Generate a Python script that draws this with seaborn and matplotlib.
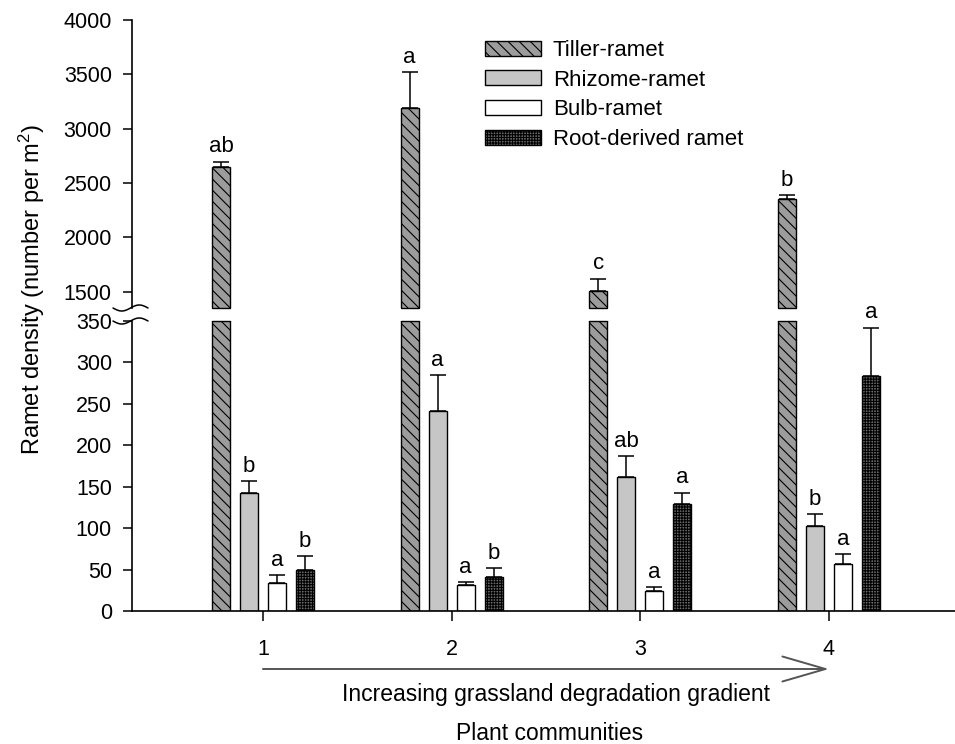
import numpy as np
import pandas as pd
import matplotlib
matplotlib.use("Agg")
import matplotlib.pyplot as plt
import matplotlib.transforms as mtransforms
from matplotlib.patches import Patch
import seaborn as sns

# ---------------- data ----------------
communities = ["1", "2", "3", "4"]
ramet_types = ["Tiller-ramet", "Rhizome-ramet", "Bulb-ramet", "Root-derived ramet"]

tiller = [2645, 3190, 1505, 2355]
tiller_se = [53, 332, 115, 37]
rhizome = [142, 241, 162, 103]
rhizome_se = [15, 44, 25, 14]
bulb = [34, 31, 24, 57]
bulb_se = [9, 4, 5, 12]
root = [49, 41, 129, 284]
root_se = [17, 11, 14, 58]

tiller_letters = ["ab", "a", "c", "b"]
rhizome_letters = ["b", "a", "ab", "b"]
bulb_letters = ["a", "a", "a", "a"]
root_letters = ["b", "b", "a", "a"]

upper_ticks = [1500, 2000, 2500, 3000, 3500, 4000]
lower_ticks = [0, 50, 100, 150, 200, 250, 300, 350]

means = [tiller, rhizome, bulb, root]
ses = [tiller_se, rhizome_se, bulb_se, root_se]
letters = [tiller_letters, rhizome_letters, bulb_letters, root_letters]

df = pd.DataFrame({
    "community": np.repeat([communities], 4, axis=0).ravel(),
    "type": np.repeat(ramet_types, 4),
    "value": np.concatenate(means),
})

# ---------------- style ----------------
sns.set_style("white")
plt.rcParams["font.family"] = ["Liberation Sans", "DejaVu Sans"]
plt.rcParams["mathtext.fontset"] = "custom"
plt.rcParams["mathtext.rm"] = "Liberation Sans"
plt.rcParams["mathtext.it"] = "Liberation Sans:italic"
plt.rcParams["hatch.linewidth"] = 0.8
plt.rcParams["hatch.color"] = "black"
for k in ("text.color", "axes.labelcolor", "xtick.color", "ytick.color", "axes.edgecolor"):
    plt.rcParams[k] = "black"

FS_TICK = 15.5
FS_LET = 16
FS_LAB = 16.5
FS_YLAB = 17
FS_LEG = 16
faces = ["#9c9c9c", "#c6c6c6", "#ffffff", "#6a6a6a"]
hatches = ["\\\\\\", "", "", "++++++"]

W, H = 955, 744
fig = plt.figure(figsize=(W / 100, H / 100), dpi=100)
fig.patch.set_facecolor("white")

ax_left, ax_right = 132, 955
ax_up = fig.add_axes([ax_left / W, 1 - 308 / H, (ax_right - ax_left) / W, (308 - 20) / H])
ax_lo = fig.add_axes([ax_left / W, 1 - 611 / H, (ax_right - ax_left) / W, (611 - 321) / H])

for ax in (ax_up, ax_lo):
    sns.barplot(data=df, x="community", y="value", hue="type",
                order=communities, hue_order=ramet_types,
                width=0.593, gap=0.36, errorbar=None, legend=False,
                edgecolor="black", linewidth=1.0, ax=ax)
    for i, cont in enumerate(ax.containers):
        for p in cont.patches:
            p.set_facecolor(faces[i])
            p.set_edgecolor("black")
            p.set_hatch(hatches[i])
    ax.set_xlim(-0.694, 3.668)
    ax.set_xlabel("")
    ax.set_ylabel("")
    ax.set_facecolor("none")
    for s in ("top", "right"):
        ax.spines[s].set_visible(False)
    ax.spines["left"].set_linewidth(1.2)
    ax.spines["bottom"].set_linewidth(1.2)
    ax.tick_params(axis="y", direction="out", length=6.5, width=1.1,
                   labelsize=FS_TICK, pad=8, left=True)

ax_up.set_ylim(1350, 4000)
ax_up.set_yticks(upper_ticks)
ax_up.spines["bottom"].set_visible(False)
ax_up.tick_params(axis="x", bottom=False, labelbottom=False)

ax_lo.set_ylim(0, 350)
ax_lo.set_yticks(lower_ticks)
ax_lo.set_xticks(range(len(communities)))
ax_lo.set_xticklabels(communities)
ax_lo.tick_params(axis="x", direction="out", length=7, width=1.1,
                  labelsize=FS_TICK, pad=13, bottom=True)

# error bars + letters
for i in range(4):
    ax = ax_up if i == 0 else ax_lo
    cont = ax.containers[i]
    xs = [p.get_x() + p.get_width() / 2 for p in cont.patches]
    ax.errorbar(xs, means[i], yerr=[np.zeros(4), ses[i]], fmt="none",
                ecolor="black", elinewidth=1.1, capsize=6, capthick=1.1,
                zorder=3)
    for x, m, s, lab in zip(xs, means[i], ses[i], letters[i]):
        ax.annotate(lab, (x, m + s), xytext=(0, 3), textcoords="offset points",
                    ha="center", va="bottom", fontsize=FS_LET)

# edge lines at the break for the tiller bars
for ax, yv in ((ax_up, 1350), (ax_lo, 350)):
    for p in ax.containers[0].patches:
        ax.plot([p.get_x(), p.get_x() + p.get_width()], [yv, yv],
                color="black", lw=1.0, clip_on=False, zorder=4)

# break marks on the y axis
t = np.linspace(0, 1, 50)
wx = (-19 + 35 * t) / (ax_right - ax_left)
for ax, yb, hpx in ((ax_up, 0.0, 288), (ax_lo, 1.0, 290)):
    wy = yb + (-3.0 * np.sin(2 * np.pi * t)) / hpx
    ax.plot(wx, wy, transform=ax.transAxes, color="black", lw=1.1, clip_on=False)

# degradation arrow
trans = mtransforms.blended_transform_factory(ax_lo.transData, ax_lo.transAxes)
y_arrow = (611 - 669) / 290
ax_lo.annotate("", xy=(3, y_arrow), xytext=(0, y_arrow), xycoords=trans, textcoords=trans,
               arrowprops=dict(arrowstyle="->,head_length=3.1,head_width=0.9",
                               color="#555555", lw=1.4, shrinkA=0, shrinkB=0,
                               mutation_scale=10))

fig.text(556 / W, 1 - 694 / H, "Increasing grassland degradation gradient",
         ha="center", va="center", fontsize=FS_LAB)
fig.text(550 / W, 1 - 733 / H, "Plant communities",
         ha="center", va="center", fontsize=FS_LAB)
fig.text(32 / W, 1 - 289 / H, "Ramet density (number per m$^{2}$)",
         ha="center", va="center", rotation=90, fontsize=FS_YLAB)

# legend
handles = [Patch(facecolor=faces[i], edgecolor="black", hatch=hatches[i], lw=1.0)
           for i in range(4)]
fig.legend(handles, ramet_types, loc="upper left", bbox_to_anchor=(485 / W, 1 - 40 / H),
           frameon=False, fontsize=FS_LEG, handlelength=2.5, handleheight=0.66,
           handletextpad=0.55, labelspacing=0.39, borderpad=0, borderaxespad=0)

fig.savefig("out.png", dpi=100, facecolor="white")
